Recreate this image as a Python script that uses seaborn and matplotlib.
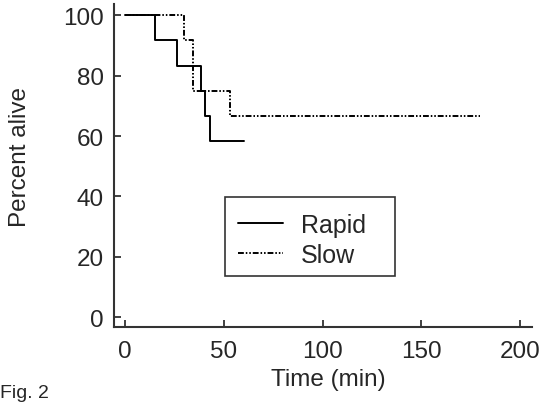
import matplotlib
matplotlib.use("Agg")
import matplotlib.pyplot as plt
from matplotlib.patches import Rectangle
import pandas as pd
import seaborn as sns

# Survival curves (percent alive vs time)
rapid_time = [0, 15, 26.5, 38.5, 40.5, 43, 60]
rapid_alive = [100, 91.67, 83.33, 75, 66.67, 58.33, 58.33]
slow_time = [0, 30, 34.5, 53, 180]
slow_alive = [100, 91.67, 75, 66.67, 66.67]
groups = ["Rapid", "Slow"]

df = pd.concat([
    pd.DataFrame({"Time": rapid_time, "Alive": rapid_alive, "Group": groups[0]}),
    pd.DataFrame({"Time": slow_time, "Alive": slow_alive, "Group": groups[1]}),
])

sns.set_style("ticks")
plt.rcParams["font.family"] = ["Liberation Sans", "DejaVu Sans"]

fig = plt.figure(figsize=(5.44, 4.06), dpi=100)
ax = fig.add_axes([0.2096, 0.192, 0.768, 0.796])

sns.lineplot(
    data=df, x="Time", y="Alive", hue="Group", style="Group",
    palette={"Rapid": "black", "Slow": "black"},
    dashes={"Rapid": "", "Slow": (3, 1, 0.8, 1, 0.8, 1)},
    drawstyle="steps-post", estimator=None, sort=False,
    linewidth=1.4, ax=ax,
)

ax.set_xlim(-5.6, 206)
ax.set_ylim(-3.3, 103.8)
ax.set_xticks([0, 50, 100, 150, 200])
ax.set_yticks([0, 20, 40, 60, 80, 100])
ax.tick_params(direction="in", length=5, width=1.3, labelsize=17.5, color="#333333")
ax.tick_params(axis="x", pad=9)
ax.tick_params(axis="y", pad=7.5)
for s in ["left", "bottom"]:
    ax.spines[s].set_linewidth(1.5)
    ax.spines[s].set_color("#333333")
sns.despine(ax=ax)

ax.set_xlabel("Time (min)", fontsize=17.5)
ax.set_ylabel("Percent alive", fontsize=17.5)
ax.xaxis.set_label_coords(0.514, -0.127)
ax.yaxis.set_label_coords(-0.199, 0.529)

# legend without its own frame, plus a plain box drawn around it
ax.legend(
    loc="upper left", bbox_to_anchor=(0.297, 0.354), fontsize=18,
    frameon=False, handlelength=1.8, handletextpad=0.7,
    borderpad=0, borderaxespad=0, labelspacing=0.25, title=None,
)
ax.add_patch(Rectangle((0.266, 0.158), 0.407, 0.245, transform=ax.transAxes,
                       fill=False, edgecolor="#333333", linewidth=1.2, zorder=5))

fig.text(0.0, 0.0204, "Fig. 2", fontsize=14)

plt.savefig("out.png", dpi=100)
